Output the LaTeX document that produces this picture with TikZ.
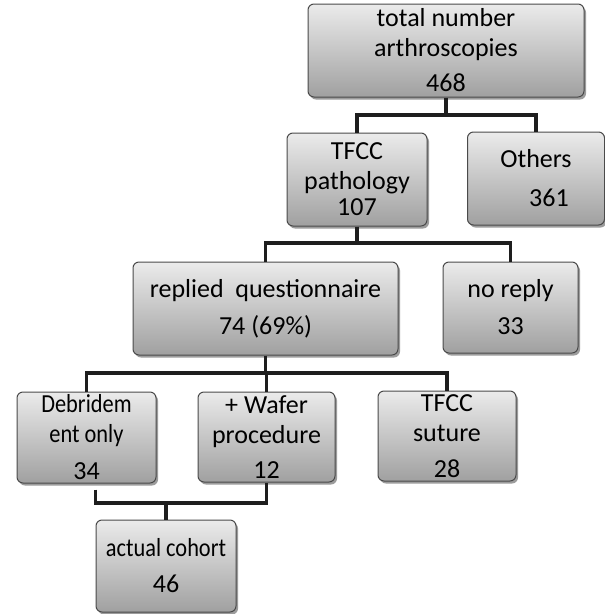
\documentclass[tikz,border=0pt]{standalone}
\usepackage{fontspec}
\usepackage{graphicx}
\setmainfont{Carlito}
\usetikzlibrary{shadows,calc}
\definecolor{boxtop}{HTML}{EBEBEB}
\definecolor{boxbot}{HTML}{A0A0A0}
\definecolor{boxedge}{HTML}{4A4A4A}
\definecolor{linec}{HTML}{1E1E1E}
\newcommand\sqz[1]{\scalebox{0.86}[1]{#1}}
\tikzset{
  box/.style={rectangle, rounded corners=6pt, draw=boxedge, line width=1pt,
    top color=boxtop, bottom color=boxbot, align=center, text=black,
    inner sep=0pt, font=\fontsize{26}{30}\selectfont,
    drop shadow={shadow xshift=2pt, shadow yshift=-2.5pt, fill=black!55, opacity=0.7}},
  conn/.style={draw=linec, line width=3.6pt, line cap=butt, line join=miter}
}
\begin{document}
\begin{tikzpicture}[x=1pt,y=-1pt]
\useasboundingbox (0,0) rectangle (605,614);
\fill[white] (0,0) rectangle (605,614);
% boxes
\node[box, minimum width=276pt, minimum height=93pt] (total) at (446,50.5)
  {total number\\arthroscopies\\[5pt]468};
\node[box, minimum width=140pt, minimum height=93pt] (tfcc) at (357,179.5)
  {TFCC\\pathology\\[-4pt]107};
\node[box, minimum width=137pt, minimum height=93pt] (others) at (536,178.5)
  {Others\\[9pt]\hspace*{26pt}361};
\node[box, minimum width=265pt, minimum height=93pt] (replied) at (265.5,308.5)
  {replied\ \ questionnaire\\[7pt]74 (69\%)};
\node[box, minimum width=135pt, minimum height=91pt] (noreply) at (510.5,307.5)
  {no reply\\[7pt]33};
\node[box, minimum width=139pt, minimum height=91pt] (debr) at (86.5,437.5)
  {\sqz{Debridem}\\\sqz{ent only}\\[7pt]34};
\node[box, minimum width=137pt, minimum height=90pt] (wafer) at (266.5,437)
  {+ Wafer\\procedure\\[5pt]12};
\node[box, minimum width=138pt, minimum height=90pt] (suture) at (447,436)
  {TFCC\\suture\\[6pt]28};
\node[box, minimum width=140pt, minimum height=92pt] (cohort) at (166,566)
  {\sqz{actual cohort}\\[6pt]46};
% junction points
\coordinate (j1) at (0,115);
\coordinate (j2) at (0,243);
\coordinate (j3) at (0,373);
\coordinate (j4) at (0,503);
% connectors
\draw[conn] (total.south) -- (total.south |- j1);
\draw[conn] (tfcc.north) |- (others.north |- j1) -- (others.north);
\draw[conn] (tfcc.south) -- (tfcc.south |- j2);
\draw[conn] (replied.north) |- (noreply.north |- j2) -- (noreply.north);
\draw[conn] (replied.south) -- (replied.south |- j3);
\draw[conn] (debr.north) |- (suture.north |- j3) -- (suture.north);
\draw[conn] (wafer.north) -- (wafer.north |- j3);
\coordinate (dstart) at ([xshift=9pt,yshift=-6pt]debr.south);
\draw[conn] (dstart) |- (wafer.south |- j4) -- (wafer.south);
\draw[conn] (cohort.north) -- (cohort.north |- j4);
\end{tikzpicture}
\end{document}
